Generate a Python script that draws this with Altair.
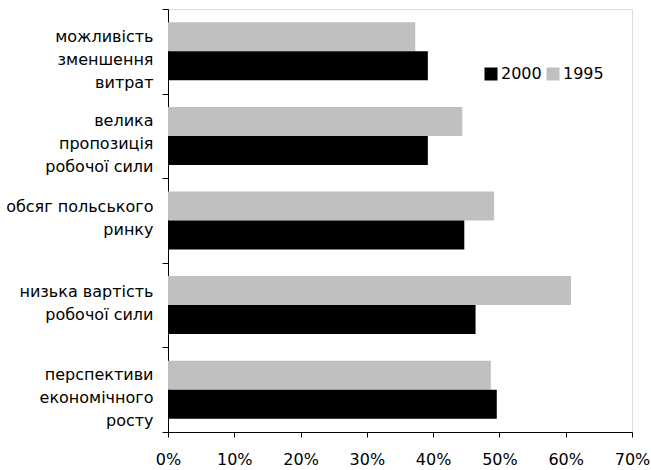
import altair as alt
import pandas as pd

categories = [
    "можливість\nзменшення\nвитрат",
    "велика\nпропозиція\nробочої сили",
    "обсяг польського\nринку",
    "низька вартість\nробочої сили",
    "перспективи\nекономічного\nросту",
]
values_1995 = [37.3, 44.4, 49.2, 60.8, 48.7]
values_2000 = [39.2, 39.2, 44.7, 46.4, 49.6]
series = ["2000", "1995"]
colors = ["#000000", "#C0C0C0"]
x_ticks = [0, 10, 20, 30, 40, 50, 60, 70]

rows = []
for c, v95, v00 in zip(categories, values_1995, values_2000):
    rows.append({"cat": c, "year": "1995", "value": v95})
    rows.append({"cat": c, "year": "2000", "value": v00})
df = pd.DataFrame(rows)

FONT = "DejaVu Sans"
FS = 16
LH = 23

chart = alt.Chart(df).mark_bar().encode(
    y=alt.Y(
        "cat:N",
        sort=categories,
        scale=alt.Scale(paddingInner=0, paddingOuter=0),
        axis=alt.Axis(
            title=None,
            labelExpr="split(datum.label, '\\n')",
            labelAlign="right",
            labelBaseline="middle",
            labelLineHeight=LH,
            labelPadding=9,
            labelOffset={
                "condition": {
                    "test": "length(split(datum.value, '\\n')) == 3",
                    "value": -15,
                },
                "value": -14,
            },
            tickBand="extent",
            tickSize=6,
            tickColor="#000000",
            domainColor="#000000",
            labelFont=FONT,
            labelFontSize=FS,
            labelColor="#000000",
        ),
    ),
    yOffset=alt.YOffset(
        "year:N",
        sort=["1995", "2000"],
        scale=alt.Scale(paddingInner=0, paddingOuter=0.4586),
    ),
    x=alt.X(
        "value:Q",
        scale=alt.Scale(domain=[0, 70], nice=False),
        axis=alt.Axis(
            title=None,
            values=x_ticks,
            labelExpr="datum.value + '%'",
            tickSize=5,
            labelPadding=14,
            grid=False,
            tickColor="#000000",
            domainColor="#000000",
            labelFont=FONT,
            labelFontSize=FS,
            labelColor="#000000",
            labelFlush=False,
        ),
    ),
    color=alt.Color(
        "year:N",
        scale=alt.Scale(domain=series, range=colors),
        legend=alt.Legend(
            title=None,
            orient="none",
            direction="horizontal",
            legendX=315,
            legendY=57,
            symbolType="square",
            symbolSize=169,
            symbolStrokeWidth=0,
            labelFont=FONT,
            labelFontSize=FS,
            labelColor="#000000",
            labelOffset=2,
            columnPadding=3,
        ),
    ),
).properties(
    width=464,
    height=423,
    padding={"left": 168, "top": 9, "right": 19, "bottom": 38},
    autosize=alt.AutoSizeParams(type="none"),
).configure_view(
    stroke="#808080",
    strokeWidth=1,
).configure(background="#ffffff")

chart.save("out.html", embed_options={"renderer": "svg", "actions": False})
